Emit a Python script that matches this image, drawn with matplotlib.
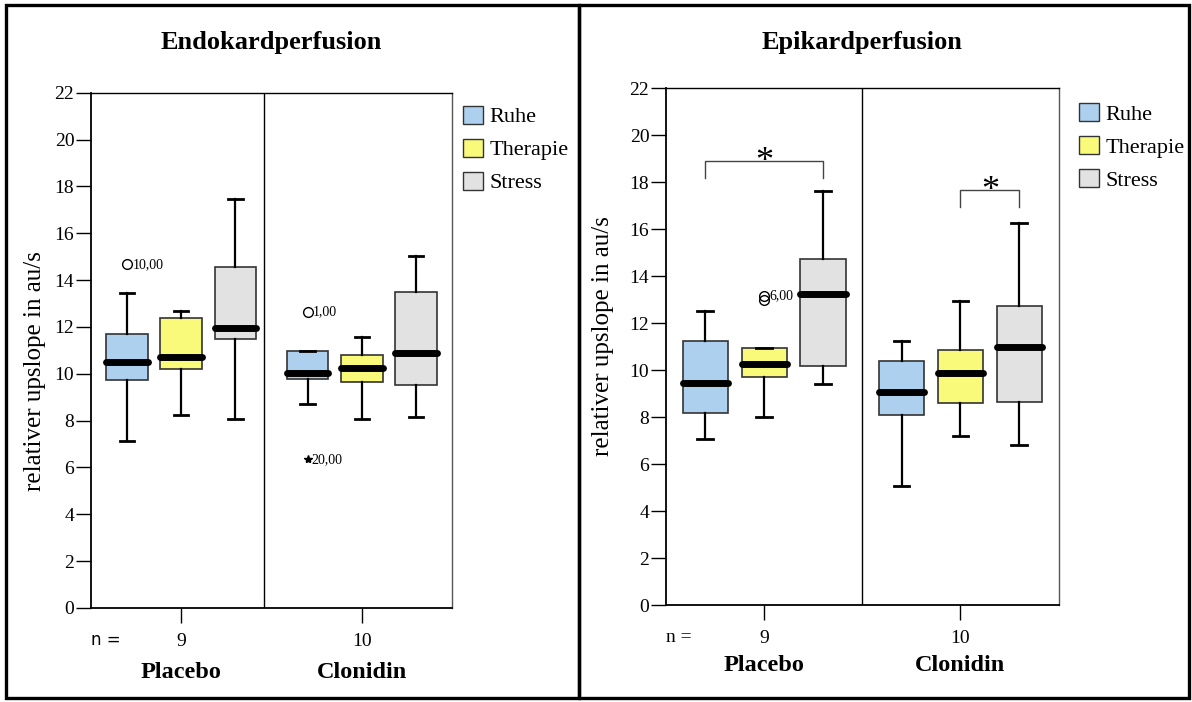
import matplotlib
matplotlib.use("Agg")
import matplotlib.pyplot as plt
from matplotlib.patches import Patch, Rectangle

plt.rcParams['font.family'] = ['Liberation Serif', 'DejaVu Serif']

# ==========================================
# 1. Data
# ==========================================
phases = ["Ruhe", "Therapie", "Stress"]
groups = ["Placebo", "Clonidin"]
group_n = ["9", "10"]
phase_colors = ["#acd0ee", "#f9f97a", "#e2e2e2"]

# box order: Placebo Ruhe/Therapie/Stress, Clonidin Ruhe/Therapie/Stress
endo_low = [7.13, 8.23, 8.07, 8.71, 8.09, 8.14]
endo_q1 = [9.75, 10.22, 11.50, 9.79, 9.64, 9.52]
endo_med = [10.49, 10.72, 11.94, 10.02, 10.23, 10.87]
endo_q3 = [11.71, 12.37, 14.54, 10.97, 10.80, 13.47]
endo_high = [13.45, 12.68, 17.48, 10.97, 11.56, 15.01]

endo_out_box = [0, 3]
endo_out_val = [14.67, 12.64]
endo_out_lab = ["10,00", "1,00"]
endo_ext_box = [3]
endo_ext_val = [6.35]
endo_ext_lab = ["20,00"]

epi_low = [7.06, 8.01, 9.43, 5.06, 7.20, 6.82]
epi_q1 = [8.16, 9.70, 10.18, 8.10, 8.58, 8.63]
epi_med = [9.45, 10.24, 13.26, 9.06, 9.87, 10.98]
epi_q3 = [11.23, 10.94, 14.75, 10.40, 10.86, 12.74]
epi_high = [12.52, 10.94, 17.63, 11.23, 12.94, 16.26]

epi_out_box = [1, 1]
epi_out_val = [13.15, 13.00]
epi_out_lab = ["6,00", ""]
epi_ext_box = []
epi_ext_val = []
epi_ext_lab = []

# significance brackets (box index from/to, bracket top, leg end)
epi_sig_from = [0, 4]
epi_sig_to = [2, 5]
epi_sig_top = [18.90, 17.67]
epi_sig_leg = [18.17, 16.95]

# ==========================================
# 2. Drawing helper
# ==========================================
offsets = [-0.3, 0.0, 0.3]
positions = [g + o for g in (1, 2) for o in offsets]


def draw_panel(ax, low, q1, med, q3, high,
               out_box, out_val, out_lab, ext_box, ext_val, ext_lab,
               divider, n_font, n_size, ylabel_xy, name_y):
    stats = []
    for i in range(6):
        fl = [v for b, v in zip(out_box, out_val) if b == i]
        stats.append(dict(whislo=low[i], q1=q1[i], med=med[i], q3=q3[i],
                          whishi=high[i], fliers=fl))

    bp = ax.bxp(stats, positions=positions, widths=0.23, patch_artist=True,
                capwidths=0.08, showfliers=True,
                boxprops=dict(edgecolor='#333333', linewidth=1.2),
                whiskerprops=dict(color='black', linewidth=1.6),
                capprops=dict(color='black', linewidth=2.0),
                medianprops=dict(color='black', linewidth=5,
                                 solid_capstyle='round'),
                flierprops=dict(marker='o', markerfacecolor='none',
                                markeredgecolor='black', markersize=7,
                                markeredgewidth=1.0))
    for i, box in enumerate(bp['boxes']):
        box.set_facecolor(phase_colors[i % 3])

    for b, v, lab in zip(out_box, out_val, out_lab):
        if lab:
            ax.annotate(lab, (positions[b], v), xytext=(4, 0),
                        textcoords='offset points', va='center', ha='left',
                        fontsize=10)
    for b, v, lab in zip(ext_box, ext_val, ext_lab):
        ax.plot(positions[b], v, marker='*', color='black', markersize=6,
                linestyle='none')
        ax.annotate(lab, (positions[b], v), xytext=(3, 0),
                    textcoords='offset points', va='center', ha='left',
                    fontsize=10)

    ax.axvline(divider, color='black', linewidth=1.0)
    ax.set_xlim(0.5, 2.5)
    ax.set_ylim(0, 22)
    ax.set_yticks(range(0, 23, 2))
    ax.set_xticks([1, 2])
    ax.set_xticklabels(group_n)
    ax.tick_params(axis='y', direction='out', length=11, width=1.0,
                   labelsize=14, pad=1)
    ax.tick_params(axis='x', direction='out', length=11, width=1.0,
                   labelsize=14, pad=7)
    for s in ax.spines.values():
        s.set_linewidth(1.0)
    ax.spines['left'].set_linewidth(1.3)
    ax.spines['bottom'].set_linewidth(1.3)
    ax.spines['right'].set_color('#555555')

    ax.set_ylabel("relativer upslope in au/s", fontsize=18)
    ax.yaxis.set_label_coords(*ylabel_xy)

    trans = ax.get_xaxis_transform()
    ax.text(0.5, -0.063, "n =", transform=trans, ha='left', va='center',
            fontsize=n_size, family=n_font)
    for g, name in zip((1, 2), groups):
        ax.text(g, name_y, name, transform=trans, ha='center', va='center',
                fontsize=17.5, fontweight='bold')

    handles = [Patch(facecolor=c, edgecolor='#333333', linewidth=1.0)
               for c in phase_colors]
    return handles


# ==========================================
# 3. Figure
# ==========================================
W, H = 1192, 702
fig = plt.figure(figsize=(W / 100, H / 100), dpi=100)

ax1 = fig.add_axes([91 / W, 1 - 608 / H, 361 / W, (608 - 92.7) / H])
ax2 = fig.add_axes([666 / W, 1 - 605 / H, 392.5 / W, (605 - 88.3) / H])

h1 = draw_panel(ax1, endo_low, endo_q1, endo_med, endo_q3, endo_high,
                endo_out_box, endo_out_val, endo_out_lab,
                endo_ext_box, endo_ext_val, endo_ext_lab, 1.46,
                ['DejaVu Sans'], 12, (-0.125, 0.46), -0.125)
h2 = draw_panel(ax2, epi_low, epi_q1, epi_med, epi_q3, epi_high,
                epi_out_box, epi_out_val, epi_out_lab,
                epi_ext_box, epi_ext_val, epi_ext_lab, 1.5,
                ['Liberation Serif'], 14, (-0.132, 0.52), -0.118)

fig.text(271.5 / W, 1 - 43 / H, "Endokardperfusion", ha='center',
         va='center', fontsize=19, fontweight='bold')
fig.text(862 / W, 1 - 43 / H, "Epikardperfusion", ha='center',
         va='center', fontsize=19, fontweight='bold')

# significance brackets on the Epikard panel
for a, b, top, leg in zip(epi_sig_from, epi_sig_to, epi_sig_top, epi_sig_leg):
    xa, xb = positions[a], positions[b]
    ax2.plot([xa, xa, xb, xb], [leg, top, top, leg], color='#444444',
             linewidth=1.0)
    ax2.annotate("*", ((xa + xb) / 2, top), xytext=(0, -7),
                 textcoords='offset points', ha='center', va='baseline',
                 fontsize=26)

leg_kw = dict(loc='upper left', frameon=False, fontsize=16, borderpad=0,
              borderaxespad=0, handlelength=0.9, handleheight=0.9,
              handletextpad=0.3, labelspacing=0.5)
ax1.legend(h1, phases, bbox_to_anchor=(1.03, 0.975), **leg_kw)
ax2.legend(h2, phases, bbox_to_anchor=(1.052, 0.972), **leg_kw)

# outer panel frames
for x0, x1 in ((6, 579), (579, 1189)):
    fig.patches.append(Rectangle((x0 / W, 1 - 698 / H), (x1 - x0) / W,
                                 (698 - 5) / H, transform=fig.transFigure,
                                 fill=False, edgecolor='black', linewidth=2.4))

fig.savefig("out.png", dpi=100)
